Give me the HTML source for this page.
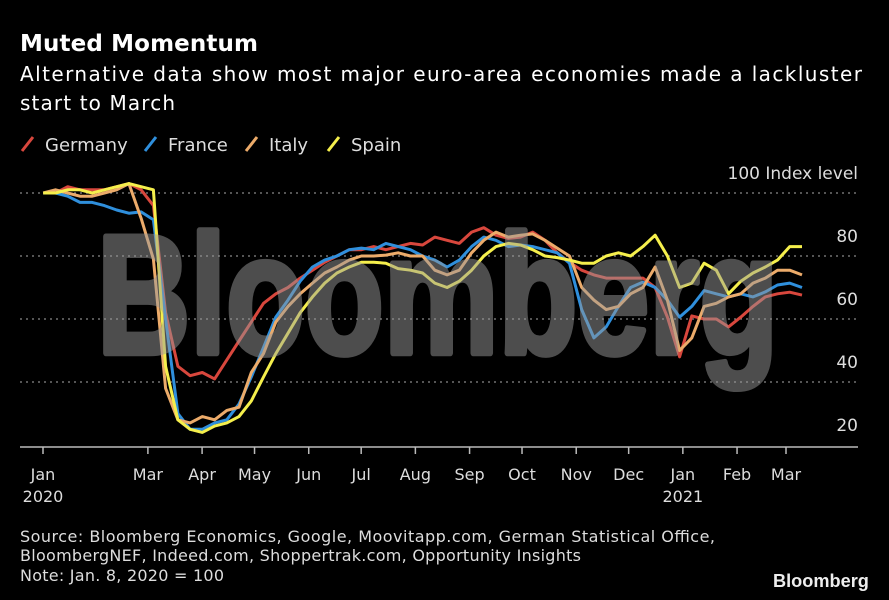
<!DOCTYPE html>
<html><head><meta charset="utf-8"><style>
html,body{margin:0;padding:0;background:#000;}
svg{display:block;}
text{font-family:"DejaVu Sans","Liberation Sans",sans-serif;}
text.lib{font-family:"Liberation Sans",Arial,sans-serif;}
</style></head><body>
<svg id="chart" width="889" height="600" viewBox="0 0 889 600">
<rect width="889" height="600" fill="#000"/>
<text x="20" y="51" font-size="23" font-weight="bold" fill="#fff" textLength="238">Muted Momentum</text>
<text x="20" y="81" font-size="20" fill="#fff" textLength="842">Alternative data show most major euro-area economies made a lackluster</text>
<text x="20" y="110" font-size="20" fill="#fff" textLength="155">start to March</text>
<g id="legend"></g>
<g id="grid"></g>
<g id="series"></g>
<g id="wm" transform="translate(95,355) scale(1,1.3)">
<text id="wmtext" class="lib" x="0" y="0" font-size="130" font-weight="bold" fill="#9a9a9a" stroke="#9a9a9a" stroke-width="5" stroke-linejoin="round" opacity="0.5">Bloomberg</text>
</g>
<g id="xaxis"></g>
<text x="20" y="542" font-size="16" fill="#ddd" textLength="695">Source: Bloomberg Economics, Google, Moovitapp.com, German Statistical Office,</text>
<text x="20" y="561" font-size="16" fill="#ddd" textLength="561">BloombergNEF, Indeed.com, Shoppertrak.com, Opportunity Insights</text>
<text x="20" y="581" font-size="16" fill="#ddd" textLength="204">Note: Jan. 8, 2020 = 100</text>
<g id="logo" transform="translate(773,587)">
<text id="logotext" class="lib" x="0" y="0" font-size="18" font-weight="bold" fill="#eee">Bloomberg</text>
</g>
</svg>
<script>
const seriesNames = ["Germany","France","Italy","Spain"];
const seriesColors = ["#d8473d","#2f8fdc","#ecab6a","#f5ef4c"];
const germany = [100,100,102,101,101,101,102,103,101,96,62,45,42,43,41,47,53,59,65,68,70,73,75.5,78,80,82,82,83,82,83,84,83.5,86,85,84,87.6,89,86.6,85.6,86,87.6,85,81,78,75.5,74,73,73,73,73,70,60.6,48,61,60,60,57.5,60.6,64,67,68,68.5,67.6];
const france = [100,100,99,97,97,96,94.6,93.6,94,91.5,60,30,25,25,27,28,33,41.6,51,60.6,66,72,76.5,78.7,80,82,82.5,82,84,83,82,80,78.7,76.5,78.7,83,86,85,83,83.5,83,82,81,77.7,63,54,57.5,64,70,71.7,70,66,60.6,64,69,68,67,68,67,68.6,70.8,71.4,70];
const italy = [100,101,100,99,99,100,101,103,92,79,38,28,27,29,28,31,32,43,49,59,64,68,71.4,74.6,76.5,78.7,80,80,80.3,81,80,80,75.5,74,75.5,81,85,87.6,86,86.6,87,85,82.5,80,70,66,63,64,68,70,76.5,66,50,54,64,65,67,68,71.4,73,75.5,75.5,74];
const spain = [100,100,101,101,100,101,102,103,102,101,45,28,25,24,26,27,29,34,41.6,49,55.5,62,67,71.4,74.6,76.5,78,78,77.7,76,75.5,74.6,71.4,70,72,75.5,80,83,84,83.5,82,80,79.5,78.7,77.7,77.7,80,81,80,83,86.6,80,70,71.4,77.7,75.5,68,72,74.6,76.5,78.7,83,83];
const seriesData = [germany, france, italy, spain];
const yTicks = [20,40,60,80];
const monthLabels = ["Jan","Mar","Apr","May","Jun","Jul","Aug","Sep","Oct","Nov","Dec","Jan","Feb","Mar"];
const monthDays = [0,60,91,121,152,182,213,244,274,305,335,366,397,425];
const yearLabels = ["2020","2021"];
const yearLabelIdx = [0,11];

const NS="http://www.w3.org/2000/svg";
function el(tag, attrs, parent, txt){const e=document.createElementNS(NS,tag);for(const k in attrs)e.setAttribute(k,attrs[k]);if(txt!==undefined)e.textContent=txt;parent.appendChild(e);return e;}
const yScale = v => 193 + (100 - v) * 3.15;
const dayScale = d => 43 + d * (786 - 43) / 425;
const weekX = i => dayScale(7 + i * 7) - 12;

(function(){
  const w=document.getElementById('wmtext').getComputedTextLength();
  if(w>0)document.getElementById('wm').setAttribute('transform','translate(97,353) scale('+(681/w).toFixed(3)+',1.3)');
  const lw=document.getElementById('logotext').getComputedTextLength();
  if(lw>0)document.getElementById('logo').setAttribute('transform','translate(773,587) scale('+(96/lw).toFixed(3)+',1)');
})();

const grid=document.getElementById('grid');
[40,60,80,100].forEach(v=>{
  const l=el('line',{x1:20,x2:858,y1:yScale(v),y2:yScale(v),stroke:'#888','stroke-width':1.3,'stroke-dasharray':'2,4'},grid);
  
  
});
yTicks.forEach(v=>{
  const t=el('text',{x:858,y:yScale(v)-14,'font-size':17,fill:'#ddd','text-anchor':'end'},grid,String(v));
  
  
});
const unit=el('text',{x:858,y:yScale(100)-14,'font-size':17,fill:'#ddd','text-anchor':'end'},grid,'100  Index level');



const ser=document.getElementById('series');
seriesData.forEach((arr,si)=>{
  const d=arr.map((v,i)=>(i?'L':'M')+weekX(i).toFixed(1)+','+yScale(v).toFixed(1)).join(' ');
  const p=el('path',{d:d,fill:'none',stroke:seriesColors[si],'stroke-width':3,'stroke-linejoin':'round'},ser);
  
  
});

const xa=document.getElementById('xaxis');
const axl=el('line',{x1:20,x2:858,y1:447,y2:447,stroke:'#bbb','stroke-width':1.5},xa);


monthDays.forEach((d,i)=>{
  const x=dayScale(d);
  const tk=el('line',{x1:x,x2:x,y1:447,y2:454,stroke:'#bbb','stroke-width':1.5},xa);
  
  
  const t=el('text',{x:x,y:480,'font-size':16,fill:'#ddd','text-anchor':'middle'},xa,monthLabels[i]);
  
  
});
yearLabels.forEach((y,i)=>{
  const t=el('text',{x:dayScale(monthDays[yearLabelIdx[i]]),y:502,'font-size':16,fill:'#ddd','text-anchor':'middle'},xa,y);
  
  
});

const lg=document.getElementById('legend');
const lgX=[22,145,246,328];
seriesNames.forEach((n,i)=>{
  const x=lgX[i];
  const g=el('g',{},lg);
  
  
  el('line',{x1:x,y1:151,x2:x+11,y2:137,stroke:seriesColors[i],'stroke-width':3},g);
  el('text',{x:x+23,y:151,'font-size':18,fill:'#ddd'},g,n);
});
</script>
</body></html>
